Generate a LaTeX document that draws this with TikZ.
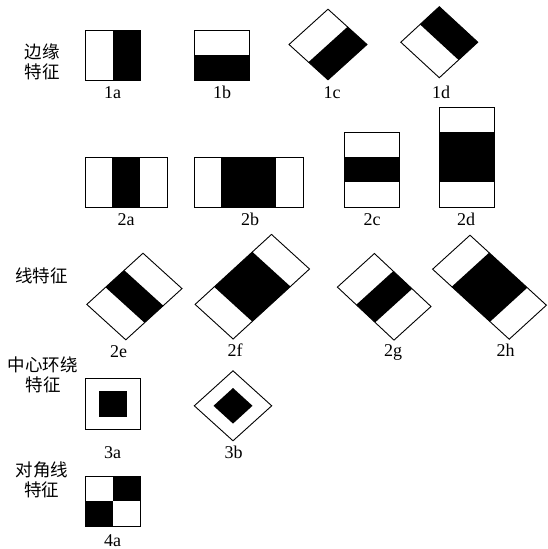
\documentclass[tikz,border=0pt]{standalone}
\usepackage{fontspec}
\setmainfont{Liberation Serif}
\newfontfamily\cjk{Noto Sans CJK SC}
\usetikzlibrary{calc}
\tikzset{
  outl/.style={draw=black, line width=0.9pt, line join=miter},
  lab/.style={font=\fontsize{18}{21}\selectfont, anchor=base, inner sep=0pt},
  cat/.style={font=\cjk\fontsize{17.5}{20}\selectfont, align=center, inner sep=0pt},
}
\newcommand{\corners}[5]{%
  \coordinate (#1-1) at (#2); \coordinate (#1-2) at (#3);
  \coordinate (#1-3) at (#4); \coordinate (#1-4) at (#5);}
\newcommand{\haar}[3]{%
  \fill[black] ($(#1-1)!#2!(#1-2)$) -- ($(#1-1)!#3!(#1-2)$) -- ($(#1-4)!#3!(#1-3)$) -- ($(#1-4)!#2!(#1-3)$) -- cycle;
  \draw[outl] (#1-1) -- (#1-2) -- (#1-3) -- (#1-4) -- cycle;}
\begin{document}
\begin{tikzpicture}[x=1pt,y=-1pt]
\useasboundingbox (0,0) rectangle (547,549);
% row 1: edge features
\corners{sa}{85,30}{140,30}{140,80}{85,80} \haar{sa}{0.5}{1}
\corners{sb}{194,30}{194,80}{249,80}{249,30} \haar{sb}{0.5}{1}
\corners{sc}{289,44.5}{328,79.8}{367,44.5}{328,9.2} \haar{sc}{0.5}{1}
\corners{sd}{400.8,42.2}{439.3,6.7}{477.8,42.2}{439.3,77.7} \haar{sd}{0.5}{1}
% row 2: line features (upright)
\corners{ta}{85,157}{167,157}{167,207}{85,207} \haar{ta}{0.3333}{0.6667}
\corners{tb}{194,157}{303,157}{303,207}{194,207} \haar{tb}{0.25}{0.75}
\corners{tc}{344,132}{344,207}{399,207}{399,132} \haar{tc}{0.3333}{0.6667}
\corners{td}{439,107}{439,207}{494,207}{494,107} \haar{td}{0.25}{0.75}
% row 3: line features (rotated)
\corners{te}{86.8,304.4}{143,253.2}{182,288.6}{125.8,339.8} \haar{te}{0.3333}{0.6667}
\corners{tf}{195.1,304.4}{271.5,234.4}{309.5,269}{233.1,339} \haar{tf}{0.25}{0.75}
\corners{tg}{374.4,253.5}{431,306.5}{394,340.1}{337.4,287.1} \haar{tg}{0.3333}{0.6667}
\corners{th}{470,235.2}{546.4,305.2}{509.2,339.2}{432.6,269.2} \haar{th}{0.25}{0.75}
% row 4: center-surround
\draw[outl] (85,378.5) rectangle (140,429);
\fill[black] (99,391) rectangle (127,416.5);
\draw[outl] (194.3,405.8) -- (233,370.8) -- (271.7,405.8) -- (233,440.8) -- cycle;
\fill[black] (213.5,405.8) -- (233,388) -- (252.5,405.8) -- (233,423.6) -- cycle;
% row 5: diagonal
\fill[black] (112.5,476) rectangle (140,501.25);
\fill[black] (85,501.25) rectangle (112.5,526.5);
\draw[outl] (85,476) rectangle (140,526.5);
% labels
\node[lab] (l1a) at (112.5,98) {1a};
\node[lab] (l1b) at (222,98) {1b};
\node[lab] (l1c) at (332,98) {1c};
\node[lab] (l1d) at (441,98) {1d};
\node[lab] (l2a) at (126,225) {2a};
\node[lab] (l2b) at (250,225) {2b};
\node[lab] (l2c) at (372,225) {2c};
\node[lab] (l2d) at (466,225) {2d};
\node[lab] (l2e) at (118.5,357) {2e};
\node[lab] (l2f) at (235,356) {2f};
\node[lab] (l2g) at (393,356) {2g};
\node[lab] (l2h) at (505.5,356.5) {2h};
\node[lab] (l3a) at (112.7,458) {3a};
\node[lab] (l3b) at (233.5,458) {3b};
\node[lab] (l4a) at (112.7,546.5) {4a};
% category labels
\node[cat] (c1) at (42,62) {边缘\\特征};
\node[cat] (c2) at (41.5,276) {线特征};
\node[cat] (c3) at (43,375) {中心环绕\\特征};
\node[cat] (c4) at (42,480) {对角线\\特征};
\end{tikzpicture}
\end{document}
